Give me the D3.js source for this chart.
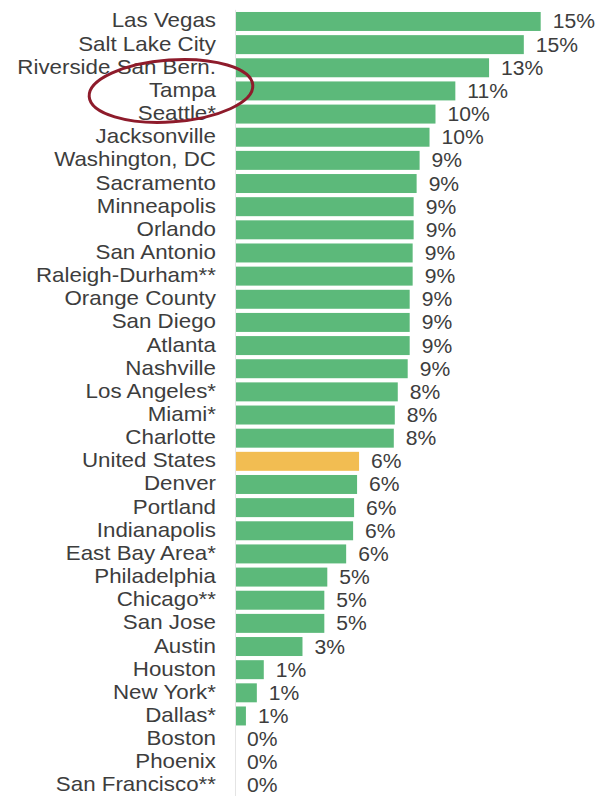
<!DOCTYPE html>
<html>
<head>
<meta charset="utf-8">
<script src="https://cdn.jsdelivr.net/npm/d3@7"></script>
<style>
  html, body { margin: 0; padding: 0; background: #ffffff; }
  svg { display: block; }
</style>
</head>
<body>
<div id="chart"></div>
<script>
const cities = ["Las Vegas","Salt Lake City","Riverside San Bern.","Tampa","Seattle*","Jacksonville","Washington, DC","Sacramento","Minneapolis","Orlando","San Antonio","Raleigh-Durham**","Orange County","San Diego","Atlanta","Nashville","Los Angeles*","Miami*","Charlotte","United States","Denver","Portland","Indianapolis","East Bay Area*","Philadelphia","Chicago**","San Jose","Austin","Houston","New York*","Dallas*","Boston","Phoenix","San Francisco**"];
const growth = [15.4,14.55,12.8,11.1,10.1,9.8,9.3,9.15,9.0,9.0,8.95,8.95,8.8,8.8,8.8,8.7,8.2,8.05,8.0,6.25,6.15,6.0,5.95,5.6,4.65,4.5,4.5,3.4,1.45,1.1,0.55,0,0,0];
const highlightCity = "United States";
const circledCity = "Tampa";

const W = 600, H = 796;
const svg = d3.select("#chart").append("svg").attr("width", W).attr("height", H);

const data = cities.map((c, i) => ({ city: c, v: growth[i] }));

const step = 23.15;
const top0 = 9.9;
const pad = 0.18;
const y = d3.scaleBand().domain(cities).range([top0, top0 + step * cities.length]).paddingInner(pad).paddingOuter(pad / 2);
const x = d3.scaleLinear().domain([0, 15]).range([235, 235 + 15 * 19.85]);

const font = "'Liberation Sans', Arial, sans-serif";
const fs = 20.5;
const catStretch = 1.09;

svg.selectAll("rect.bar").data(data).join("rect")
  .attr("class", "bar")
  .attr("x", x(0))
  .attr("y", d => y(d.city))
  .attr("width", d => x(d.v) - x(0))
  .attr("height", y.bandwidth())
  .attr("fill", d => d.city === highlightCity ? "#f2bd52" : "#5cb97a");

// thin baseline at zero
svg.append("line")
  .attr("x1", x(0) + 0.5).attr("x2", x(0) + 0.5)
  .attr("y1", y.range()[0]).attr("y2", y.range()[1])
  .attr("stroke", "#e4e4e4").attr("stroke-width", 1);

svg.selectAll("text.cat").data(data).join("text")
  .attr("class", "cat")
  .attr("transform", d => `translate(216,${y(d.city) + y.bandwidth() / 2 + 6}) scale(${catStretch},1)`)
  .attr("text-anchor", "end")
  .attr("font-family", font)
  .attr("font-size", fs)
  .attr("fill", "#3d3d3d")
  .text(d => d.city);

svg.selectAll("text.val").data(data).join("text")
  .attr("class", "val")
  .attr("transform", d => `translate(${x(d.v) + 12},${y(d.city) + y.bandwidth() / 2 + 7}) scale(1.03,1)`)
  .attr("font-family", font)
  .attr("font-size", fs)
  .attr("fill", "#3d3d3d")
  .text(d => Math.round(d.v) + "%");

// red annotation ellipse around Tampa
const cy = y(circledCity) + y.bandwidth() / 2;
svg.append("ellipse")
  .attr("cx", 0).attr("cy", 0)
  .attr("rx", 82).attr("ry", 31)
  .attr("transform", `translate(171,${cy}) rotate(-4)`)
  .attr("fill", "none")
  .attr("stroke", "#8e1b2b")
  .attr("stroke-width", 3);
</script>
</body>
</html>
